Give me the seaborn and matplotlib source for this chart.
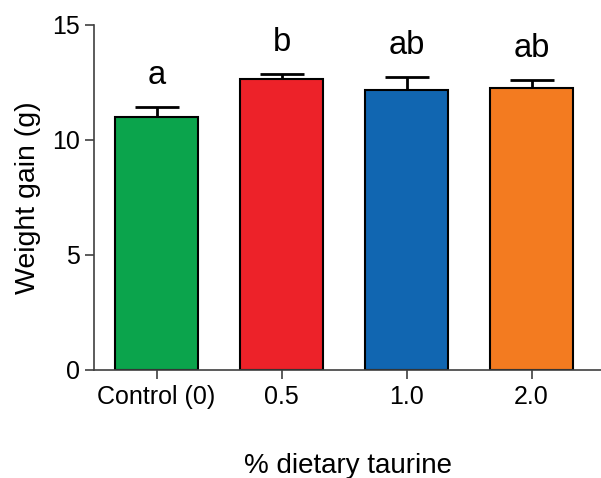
import numpy as np
import pandas as pd
import matplotlib
matplotlib.use("Agg")
import matplotlib.pyplot as plt
import seaborn as sns

sns.set_theme(style="ticks")
plt.rcParams["font.family"] = ["Liberation Sans", "DejaVu Sans"]
plt.rcParams["text.color"] = "black"
plt.rcParams["axes.labelcolor"] = "black"
plt.rcParams["xtick.labelcolor"] = "black"
plt.rcParams["ytick.labelcolor"] = "black"

GROUPS = ["Control (0)", "0.5", "1.0", "2.0"]
MEANS = [11.0, 12.63, 12.15, 12.24]
SEM = [0.45, 0.22, 0.58, 0.36]
LETTERS = ["a", "b", "ab", "ab"]
COLORS = ["#0ba44c", "#ed2229", "#1166b1", "#f37b20"]

df = pd.DataFrame({"group": GROUPS, "gain": MEANS, "sem": SEM})

fig = plt.figure(figsize=(6.01, 4.78), dpi=100)
ax = fig.add_axes([94 / 601, 1 - 369.5 / 478, 1 - 94 / 601, (369.5 - 25) / 478])

sns.barplot(data=df, x="group", y="gain", hue="group", order=GROUPS,
            palette=COLORS, errorbar=None, width=0.667, legend=False,
            edgecolor="black", linewidth=1.5, saturation=1, zorder=2, ax=ax)

x = np.arange(len(GROUPS))
# upper whisker only, tucked behind the bar edge
ax.errorbar(x, df["gain"], yerr=[np.zeros(len(SEM)), df["sem"]], fmt="none",
            ecolor="black", elinewidth=2, capsize=16, capthick=2, zorder=1)

for xi, m, s, lab in zip(x, MEANS, SEM, LETTERS):
    ax.text(xi, m + s + 1.0, lab, ha="center", va="baseline", fontsize=23.5)

ax.set_xlim(-0.5, (601 - 94) / 125 - 0.5)
ax.set_ylim(0, 15)
ax.set_yticks([0, 5, 10, 15])
ax.set_ylabel("Weight gain (g)", fontsize=20.5, labelpad=8)
ax.set_xlabel("% dietary taurine", fontsize=20, labelpad=31)
ax.tick_params(axis="both", labelsize=18, length=6.5, width=1.2, color="#404040")
ax.tick_params(axis="y", pad=3.5)
ax.tick_params(axis="x", pad=5)
sns.despine(ax=ax)
for sp in ("left", "bottom"):
    ax.spines[sp].set_color("#404040")
    ax.spines[sp].set_linewidth(1.2)

fig.savefig("out.png", dpi=100)
